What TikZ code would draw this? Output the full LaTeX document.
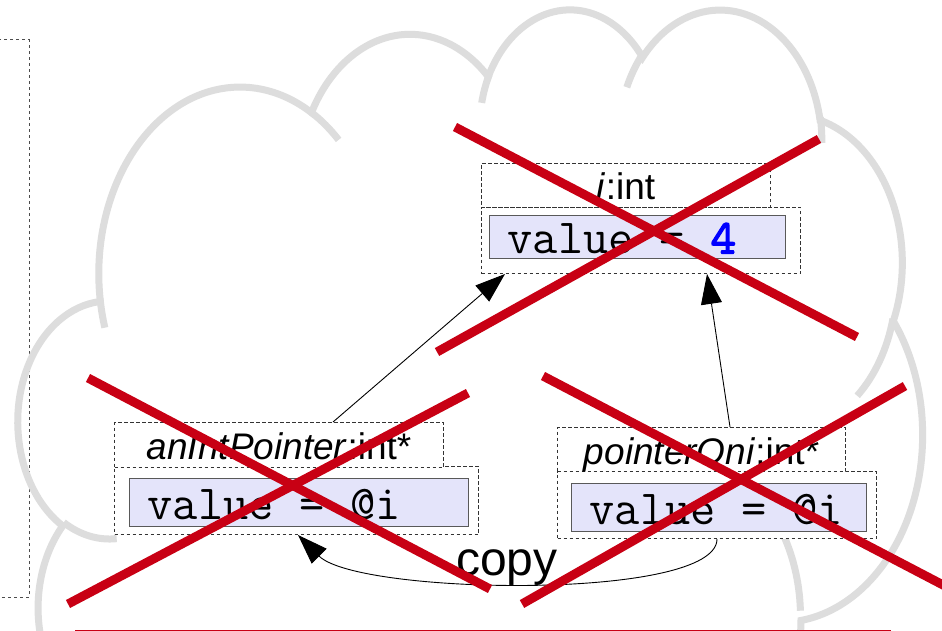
\documentclass[tikz,border=0pt]{standalone}
\usepackage{fontspec}
\setmainfont{Liberation Sans}
\newfontfamily\monoboldfont{lmmono10-regular.otf}[FakeBold=2.5]
\usetikzlibrary{arrows.meta,calc}
\definecolor{cloudgray}{RGB}{221,221,221}
\definecolor{crossred}{RGB}{200,0,20}
\definecolor{slotfill}{RGB}{228,228,250}
\definecolor{linkblue}{RGB}{0,0,255}
\newcommand\monosp{\hspace*{0.525em}}
\begin{document}
\begin{tikzpicture}[x=1pt,y=1pt,yscale=-1,
  dashbox/.style={draw=black!80, dash pattern=on 3.5pt off 2.5pt, line width=1pt, fill=white, anchor=north west, inner sep=0pt},
  hdrtext/.style={font=\fontsize{37}{40}\selectfont, text height=29pt, text depth=0pt},
  slot/.style={draw=black!65, line width=1.2pt, fill=slotfill, anchor=north west, inner xsep=18pt, inner ysep=0pt, align=left, font=\ttfamily\fontsize{49}{52}\selectfont, text height=33pt, text depth=0pt},
  refarrow/.style={draw=black, line width=0.9pt, -{Triangle[length=30pt,width=21pt]}},
  crossline/.style={draw=crossred, line width=9pt},
  cloudline/.style={draw=cloudgray, line width=7pt},
  copytext/.style={font=\fontsize{48}{52}\selectfont, anchor=base, inner sep=0pt}
]
\useasboundingbox (0,0) rectangle (942,631);
\fill[white] (0,0) rectangle (942,631);
\clip (0,0) rectangle (942,631);

% partially visible dashed frame at the left
\draw[dash pattern=on 3pt off 3pt, draw=black!70, line width=1pt] (-5,40) rectangle (29,597);

% cloud (outline + inner arcs)
\begin{scope}[shift={(18.5,7)}, xscale=2.092, yscale=2.031]
\draw[cloudline] (39.00,143.70)
  arc[start angle=172.25, end angle=300.36, x radius=67.53, y radius=91.90]
  arc[start angle=-152.02, end angle=-45.44, x radius=53.33, y radius=72.67]
  arc[start angle=-153.49, end angle=-37.33, x radius=43.65, y radius=59.45]
  arc[start angle=-139.71, end angle=-10.21, x radius=48.57, y radius=65.95]
  arc[start angle=-74.77, end angle=23.21, x radius=53.33, y radius=72.73]
  arc[start angle=-37.53, end angle=81.86, x radius=67.75, y radius=92.20]
  arc[start angle=0.46, end angle=121.98, x radius=57.85, y radius=78.67]
  arc[start angle=16.84, end angle=146.23, x radius=67.52, y radius=92.15]
  arc[start angle=58.98, end angle=150.20, x radius=77.20, y radius=105.43]
  arc[start angle=83.31, end angle=223.11, x radius=43.60, y radius=59.18]
  arc[start angle=120.36, end angle=264.11, x radius=43.45, y radius=59.45]
  -- cycle;
\draw[cloudline]
  (46.93,261.77) arc[start angle=85.55, end angle=120.36, x radius=43.45, y radius=59.45]
  (69.28,348.99) arc[start angle=68.24, end angle=97.10, x radius=43.60, y radius=59.18]
  (164.78,390.90) arc[start angle=146.23, end angle=164.45, x radius=67.52, y radius=92.15]
  (288.27,347.51) arc[start angle=4.74, end angle=22.07, x radius=67.52, y radius=92.15]
  (341.29,229.54) arc[start angle=-64.03, end angle=-2.20, x radius=57.85, y radius=78.67]
  (417.98,153.54) arc[start angle=13.77, end angle=49.38, x radius=53.33, y radius=72.73]
  (383.24,54.26) arc[start angle=-10.21, end angle=0.815, x radius=48.57, y radius=65.95]
  (290.78,39.52) arc[start angle=-156.29, end angle=-139.71, x radius=48.57, y radius=65.95]
  (221.41,47.20) arc[start angle=-167.73, end angle=-153.49, x radius=43.65, y radius=59.45]
  (140.00,51.92) arc[start angle=-59.64, end angle=-45.72, x radius=67.53, y radius=91.90]
  (41.27,157.89) arc[start angle=163.19, end angle=172.25, x radius=67.53, y radius=91.90];
\end{scope}

% object i:int
\node[dashbox, minimum width=319pt, minimum height=66pt] (iV) at (481,207) {};
\node[dashbox, hdrtext, minimum width=289pt, minimum height=44pt] (iH) at (481,163) {\textit{i}:int};
\node[slot, text width=260pt, minimum height=43pt] (iS) at (489,215) {value\monosp=\monosp{\monoboldfont\fontsize{49}{52}\selectfont\color{linkblue}4}};

% object anIntPointer
\node[dashbox, minimum width=364pt, minimum height=68pt] (aV) at (114,466) {};
\node[dashbox, hdrtext, minimum width=329pt, minimum height=45pt] (aH) at (114,422) {\textit{anIntPointer}:int*};
\node[slot, text width=303pt, minimum height=48pt] (aS) at (129,478) {value\monosp=\monosp@i};

% object pointerOni
\node[dashbox, minimum width=319pt, minimum height=67pt] (pV) at (557,471) {};
\node[dashbox, hdrtext, minimum width=288pt, minimum height=44pt] (pH) at (557,427) {\textit{pointerOni}:int*};
\node[slot, text width=259pt, minimum height=48pt] (pS) at (571,483) {value\monosp=\monosp@i};

% connectors
\draw[refarrow] ($(aH.north west)+(219,0)$) -- ($(iV.south west)+(24,0)$);
\draw[refarrow] ($(pH.north west)+(173,0)$) -- ($(iV.south west)+(226,0)$);
\draw[refarrow] ($(pV.south west)+(160,0)$) .. controls +(0,62) and +(60,60) .. ($(aV.south west)+(184,0)$);
\node[copytext] (copylbl) at (507,575) {copy};

% red crosses
\draw[crossline] (455,127) -- (857,337);
\draw[crossline] (437,352) -- (819,139);
\draw[crossline] (88,378) -- (490,589);
\draw[crossline] (68,604) -- (468,393);
\draw[crossline] (543,376) -- (945,586);
\draw[crossline] (522,604) -- (905,386);

% edge of a red shape below
\draw[crossred, line width=2pt] (75,630.5) -- (891,630.5);
\end{tikzpicture}
\end{document}
